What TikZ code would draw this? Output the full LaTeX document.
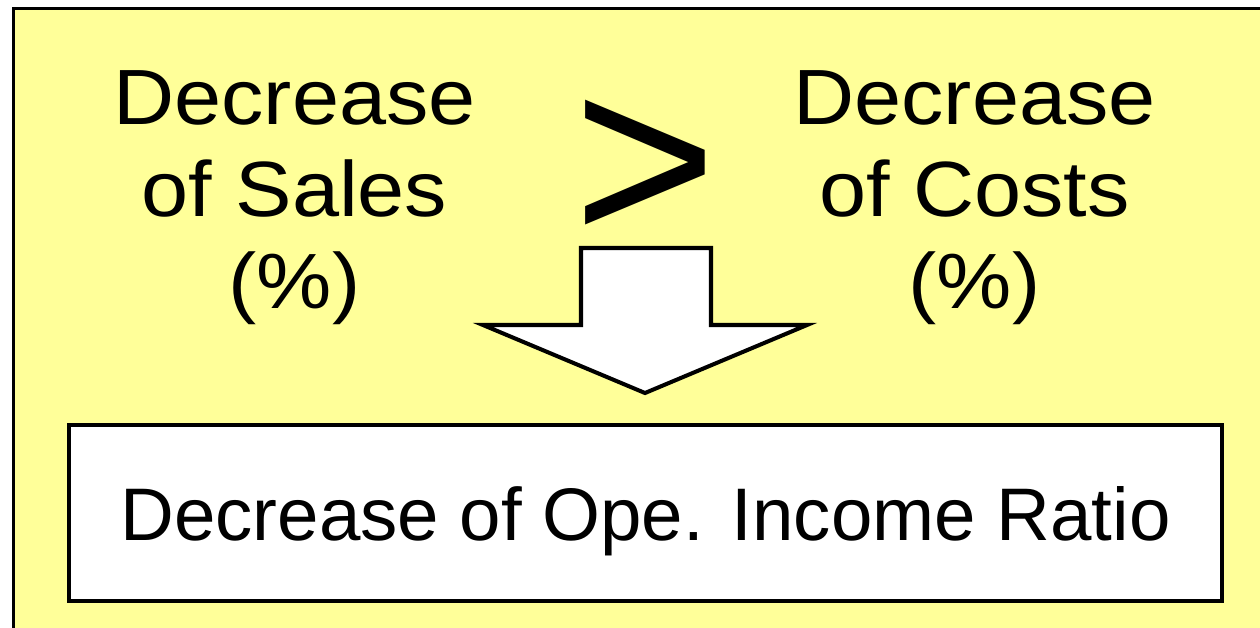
\documentclass[tikz,border=0pt]{standalone}
\usepackage{fontspec}
\setmainfont{Liberation Sans}
\newfontfamily\widefont[FakeStretch=1.08]{Liberation Sans}
\definecolor{paleyellow}{RGB}{255,255,153}

\begin{document}
\begin{tikzpicture}[x=0.02cm,y=-0.02cm,
    top node/.style={font=\widefont\fontsize{44.6}{52.3}\selectfont,align=center,anchor=base,inner sep=0pt},
    result node/.style={draw,line width=2.3pt,fill=white,minimum width=23.06cm,minimum height=3.52cm,
        font=\fontsize{42.4}{50}\selectfont,text depth=0pt,inner sep=0pt}]

  \useasboundingbox (0,0) rectangle (1260,627);
  \clip (0,0) rectangle (1260,627);
  % Background frame
  \draw[line width=1.7pt,fill=paleyellow] (13.5,8.5) rectangle (1280,650);

  % Define texts
  \node[top node] (sales) at (294.5,308) {Decrease\\of Sales\\(\%)};
  \node[top node] (costs) at (974.5,308) {Decrease\\of Costs\\(\%)};
  \node[font=\fontsize{140}{140}\selectfont,anchor=base,inner sep=0pt] (gt) at (645,243) {>};
  \node[result node] (ratio) at (645.5,513) {Decrease of Ope. Income Ratio};

  % Block arrow
  \draw[line width=2.3pt,fill=white,line join=miter]
    (581,248) -- (711,248) -- (711,325) -- (807,325) -- (645,393)
    -- (483,325) -- (581,325) -- cycle;
\end{tikzpicture}
\end{document}
